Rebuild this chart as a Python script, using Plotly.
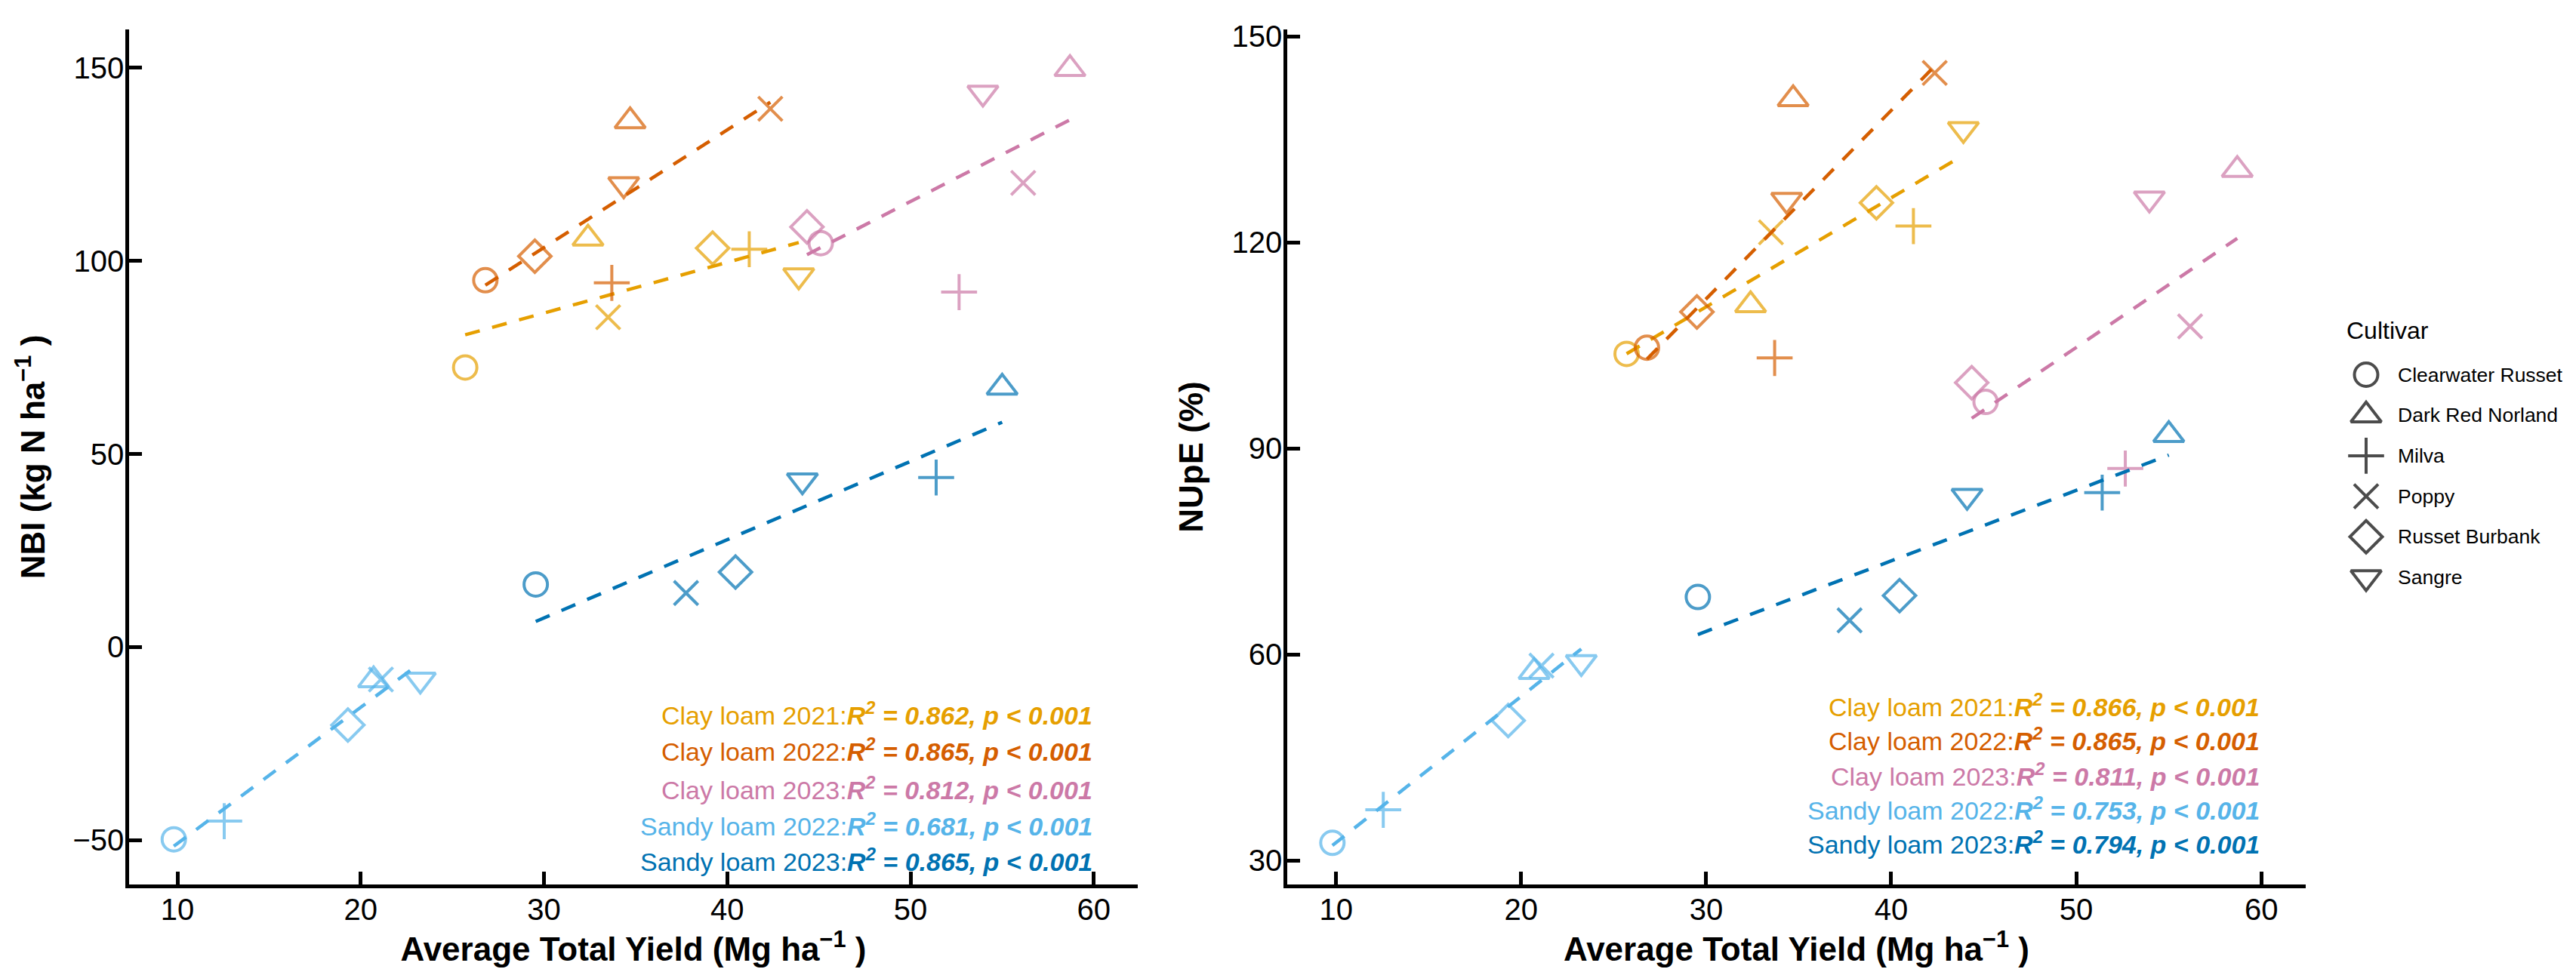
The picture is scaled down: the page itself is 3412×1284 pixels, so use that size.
import numpy as np
import plotly.graph_objects as go

# ---------------- data ----------------
cultivars = ["Clearwater Russet", "Dark Red Norland", "Milva", "Poppy", "Russet Burbank", "Sangre"]
groups = ["Clay loam 2021", "Clay loam 2022", "Clay loam 2023", "Sandy loam 2022", "Sandy loam 2023"]

# Average total yield (Mg/ha), order follows `cultivars`
yield_cl2021 = [25.7, 32.4, 41.2, 33.5, 39.2, 43.9]
yield_cl2022 = [26.8, 34.7, 33.7, 42.35, 29.5, 34.35]
yield_cl2023 = [45.1, 58.7, 52.65, 56.15, 44.35, 53.95]
yield_sl2022 = [9.8, 20.7, 12.55, 21.1, 19.3, 23.25]
yield_sl2023 = [29.55, 55.0, 51.4, 37.75, 40.45, 44.1]

# NBI (kg N/ha)
nbi_cl2021 = [72.4, 105.8, 103.0, 85.4, 103.3, 96.2]
nbi_cl2022 = [95.0, 136.2, 94.3, 139.4, 101.2, 119.8]
nbi_cl2023 = [104.6, 149.7, 91.9, 120.2, 108.8, 143.5]
nbi_sl2022 = [-49.8, -8.6, -45.1, -8.4, -20.2, -8.5]
nbi_sl2023 = [16.2, 67.2, 43.9, 14.0, 19.4, 43.1]

# NUpE (%)
nupe_cl2021 = [103.8, 110.9, 122.4, 121.5, 125.8, 136.5]
nupe_cl2022 = [104.7, 140.9, 103.2, 144.7, 109.9, 126.2]
nupe_cl2023 = [96.8, 130.6, 87.1, 107.8, 99.6, 126.4]
nupe_sl2022 = [32.6, 57.5, 37.4, 58.4, 50.4, 58.9]
nupe_sl2023 = [68.4, 92.0, 83.6, 65.0, 68.6, 83.1]

r2_nbi = ["0.862", "0.865", "0.812", "0.681", "0.865"]
r2_nupe = ["0.866", "0.865", "0.811", "0.753", "0.794"]

x_ticks = [10, 20, 30, 40, 50, 60]
nbi_ticks = [-50, 0, 50, 100, 150]
nupe_ticks = [30, 60, 90, 120, 150]

# ---------------- styles ----------------
W, H = 3412, 1284
FONT = "Liberation Sans, Arial, Helvetica, sans-serif"
colors = ["#E69F00", "#D55E00", "#CC79A7", "#56B4E9", "#0072B2"]
symbols = ["circle-open", "triangle-up-open", "cross-thin-open", "x-thin-open", "diamond-open", "triangle-down-open"]
sizes = [31, 35, 34, 32, 33, 35]
MLW = 4

yields = [yield_cl2021, yield_cl2022, yield_cl2023, yield_sl2022, yield_sl2023]
nbis = [nbi_cl2021, nbi_cl2022, nbi_cl2023, nbi_sl2022, nbi_sl2023]
nupes = [nupe_cl2021, nupe_cl2022, nupe_cl2023, nupe_sl2022, nupe_sl2023]

fig = go.Figure()

panels = [("x", "y", nbis, r2_nbi, [0.2002, 0.1573, 0.1128, 0.0699, 0.0288]),
          ("x2", "y2", nupes, r2_nupe, [0.2098, 0.1696, 0.1289, 0.0892, 0.0490])]

annotations = []
for xa, ya, vals, r2s, ypos in panels:
    for g, name in enumerate(groups):
        xs = np.array(yields[g], dtype=float)
        ys = np.array(vals[g], dtype=float)
        slope, icpt = np.polyfit(xs, ys, 1)
        xl = np.array([xs.min(), xs.max()])
        fig.add_trace(go.Scatter(
            x=xl, y=slope * xl + icpt, mode="lines", xaxis=xa, yaxis=ya,
            line=dict(color=colors[g], width=4.5, dash="20px,17px"),
            showlegend=False, hoverinfo="skip"))
        fig.add_trace(go.Scatter(
            x=xs, y=ys, mode="markers", xaxis=xa, yaxis=ya, name=name,
            showlegend=False,
            marker=dict(symbol=symbols, size=sizes, color=colors[g],
                        line=dict(color=colors[g], width=MLW))))
        annotations.append(dict(
            x=60, xref=xa, y=ypos[g], yref=ya + " domain", xanchor="right", yanchor="middle",
            showarrow=False,
            text=f"{name}:<b><i>R<sup>2</sup> = {r2s[g]}, p &lt; 0.001</i></b>",
            font=dict(family=FONT, size=34, color=colors[g])))

# ---- manual legend (hidden pixel-space axes) ----
leg_x_marker, leg_x_text, leg_y0, leg_dy = 3126, 3166, 481, 54.2
leg_y = [leg_y0 + i * leg_dy for i in range(len(cultivars))]
fig.add_trace(go.Scatter(
    x=[leg_x_marker] * len(cultivars), y=leg_y, mode="markers", xaxis="x3", yaxis="y3",
    showlegend=False, hoverinfo="skip",
    marker=dict(symbol=symbols, size=sizes, color="black", line=dict(color="black", width=MLW))))
for i, c in enumerate(cultivars):
    annotations.append(dict(x=leg_x_text, y=leg_y[i], xref="x3", yref="y3", xanchor="left",
                            yanchor="middle", showarrow=False, text=c,
                            font=dict(family=FONT, size=26.5, color="black")))
annotations.append(dict(x=3098, y=422, xref="x3", yref="y3", xanchor="left", yanchor="middle",
                        showarrow=False, text="Cultivar", font=dict(family=FONT, size=32, color="black")))

axis_common = dict(showline=True, linecolor="black", linewidth=4.5, ticks="inside", ticklen=17,
                   tickwidth=4.5, tickcolor="black", showgrid=False, zeroline=False, mirror=False,
                   ticklabelstandoff=-6,
                   tickfont=dict(family=FONT, size=40, color="black"))
title_font = dict(family=FONT, size=44, color="black")
ydom = [1 - 1163 / H, 1 - 19 / H]

fig.update_layout(
    width=W, height=H, margin=dict(l=0, r=0, t=0, b=0),
    paper_bgcolor="white", plot_bgcolor="rgba(0,0,0,0)", showlegend=False,
    font=dict(family=FONT, color="black"),
    xaxis=dict(domain=[163 / W, 1499 / W], range=[7.36, 62.4], tickvals=x_ticks, anchor="y",
               title=dict(text="<b>Average Total Yield (Mg ha<sup>−1</sup> )</b>", font=title_font, standoff=6),
               **axis_common),
    yaxis=dict(domain=ydom, range=[-61.52, 159.97], tickvals=nbi_ticks, anchor="x",
               title=dict(text="<b>NBI (kg N ha<sup>−1</sup> )</b>", font=title_font, standoff=24),
               **axis_common),
    xaxis2=dict(domain=[1697 / W, 3046 / W], range=[7.36, 62.4], tickvals=x_ticks, anchor="y2",
                title=dict(text="<b>Average Total Yield (Mg ha<sup>−1</sup> )</b>", font=title_font, standoff=6),
                **axis_common),
    yaxis2=dict(domain=ydom, range=[26.52, 151.06], tickvals=nupe_ticks, anchor="x2",
                title=dict(text="<b>NUpE (%)</b>", font=title_font, standoff=26),
                **axis_common),
    xaxis3=dict(domain=[0, 1], range=[0, W], visible=False, fixedrange=True, anchor="y3"),
    yaxis3=dict(domain=[0, 1], range=[H, 0], visible=False, fixedrange=True, anchor="x3"),
    annotations=annotations,
)

fig.write_html("out.html")
